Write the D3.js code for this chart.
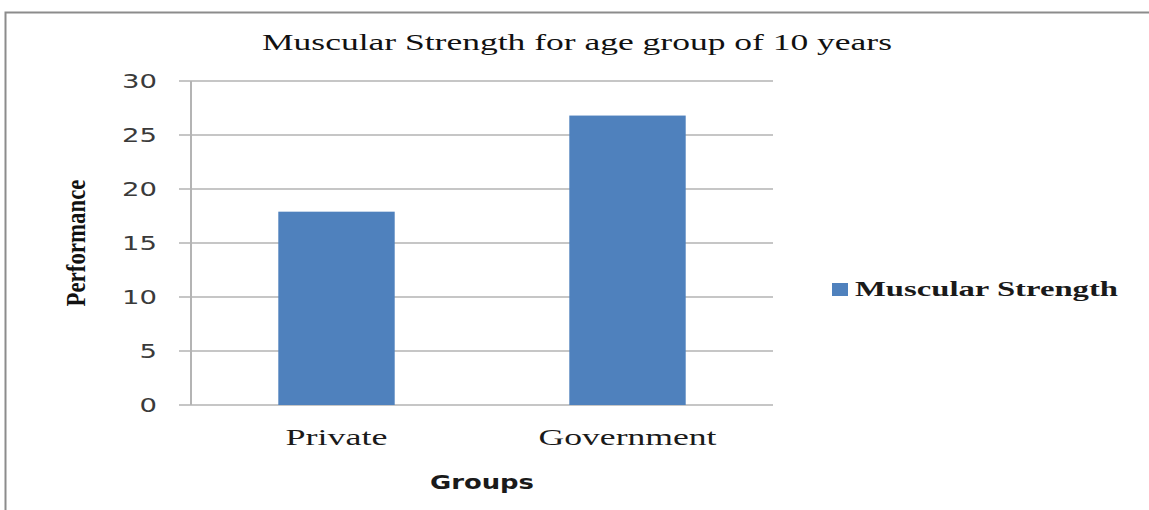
<!DOCTYPE html>
<html>
<head>
<meta charset="utf-8">
<script src="https://cdn.jsdelivr.net/npm/d3@7"></script>
<style>
  body { margin: 0; background: #fff; }
  svg { display: block; }
</style>
</head>
<body>
<div id="chart"></div>
<script>
const groups = ["Private", "Government"];
const strength = [17.9, 26.8];
const yTicks = [0, 5, 10, 15, 20, 25, 30];
const seriesName = "Muscular Strength";

const W = 1149, H = 510;
const margin = {top: 81, right: 376, bottom: 105, left: 191};
const width = W - margin.left - margin.right;
const height = H - margin.top - margin.bottom;

const svg = d3.select("#chart").append("svg")
  .attr("width", W)
  .attr("height", H);

// outer frame (top and left edges visible)
svg.append("path")
  .attr("d", `M5.5,${H} V12.5 H${W}`)
  .attr("fill", "none")
  .attr("stroke", "#8c8c8c")
  .attr("stroke-width", 2);

const g = svg.append("g")
  .attr("transform", `translate(${margin.left},${margin.top})`);

const x = d3.scaleBand().domain(groups).range([0, width]).padding(0);
const y = d3.scaleLinear().domain([0, 30]).range([height, 0]);

// gridlines with left tick stubs
g.append("g")
  .selectAll("line")
  .data(yTicks)
  .enter()
  .append("line")
  .attr("x1", -12)
  .attr("x2", width)
  .attr("y1", d => y(d))
  .attr("y2", d => y(d))
  .attr("stroke", "#c6c6c6")
  .attr("stroke-width", 2);

g.append("line")
  .attr("x1", 0).attr("x2", 0)
  .attr("y1", 0).attr("y2", height)
  .attr("stroke", "#b4b4b4")
  .attr("stroke-width", 2);

// tick labels (the picture is stretched sideways, so widen glyphs)
g.append("g")
  .selectAll("text")
  .data(yTicks)
  .enter()
  .append("text")
  .attr("x", -34)
  .attr("y", d => y(d))
  .attr("dy", "0.36em")
  .attr("text-anchor", "end")
  .attr("font-family", "DejaVu Sans, sans-serif")
  .attr("font-size", 20)
  .attr("fill", "#3a3a3a")
  .attr("textLength", d => String(d).length * 17.5)
  .attr("lengthAdjust", "spacingAndGlyphs")
  .text(d => d);

// bars
const barW = x.bandwidth() * 0.4;
g.selectAll(".bar")
  .data(groups)
  .enter()
  .append("rect")
  .attr("class", "bar")
  .attr("x", d => x(d) + (x.bandwidth() - barW) / 2)
  .attr("y", (d, i) => y(strength[i]))
  .attr("width", barW)
  .attr("height", (d, i) => height - y(strength[i]))
  .attr("fill", "#4f81bd");

// category labels
g.selectAll(".cat")
  .data(groups)
  .enter()
  .append("text")
  .attr("class", "cat")
  .attr("x", d => x(d) + x.bandwidth() / 2)
  .attr("y", height + 40)
  .attr("text-anchor", "middle")
  .attr("font-family", "Liberation Serif, serif")
  .attr("font-size", 24)
  .attr("fill", "#1a1a1a")
  .attr("textLength", (d, i) => i === 0 ? 102 : 178)
  .attr("lengthAdjust", "spacingAndGlyphs")
  .text(d => d);

// x axis title
g.append("text")
  .attr("x", width / 2)
  .attr("y", height + 84)
  .attr("text-anchor", "middle")
  .attr("font-family", "DejaVu Sans, sans-serif")
  .attr("font-weight", "bold")
  .attr("font-size", 19)
  .attr("fill", "#1a1a1a")
  .attr("textLength", 104)
  .attr("lengthAdjust", "spacingAndGlyphs")
  .text("Groups");

// y axis title
svg.append("text")
  .attr("transform", `translate(85,243) rotate(-90)`)
  .attr("text-anchor", "middle")
  .attr("font-family", "Liberation Serif, serif")
  .attr("font-weight", "bold")
  .attr("font-size", 27)
  .attr("fill", "#111")
  .attr("textLength", 127)
  .attr("lengthAdjust", "spacingAndGlyphs")
  .text("Performance");

// chart title
svg.append("text")
  .attr("x", 577)
  .attr("y", 50)
  .attr("text-anchor", "middle")
  .attr("font-family", "Liberation Serif, serif")
  .attr("font-size", 24)
  .attr("fill", "#111")
  .attr("textLength", 630)
  .attr("lengthAdjust", "spacingAndGlyphs")
  .text("Muscular Strength for age group of 10 years");

// legend
const legend = svg.append("g").attr("transform", "translate(832,283)");
legend.append("rect")
  .attr("width", 16)
  .attr("height", 13)
  .attr("fill", "#4f81bd");
legend.append("text")
  .attr("x", 23)
  .attr("y", 13)
  .attr("font-family", "Liberation Serif, serif")
  .attr("font-weight", "bold")
  .attr("font-size", 21)
  .attr("fill", "#1a1a1a")
  .attr("textLength", 263)
  .attr("lengthAdjust", "spacingAndGlyphs")
  .text(seriesName);
</script>
</body>
</html>
